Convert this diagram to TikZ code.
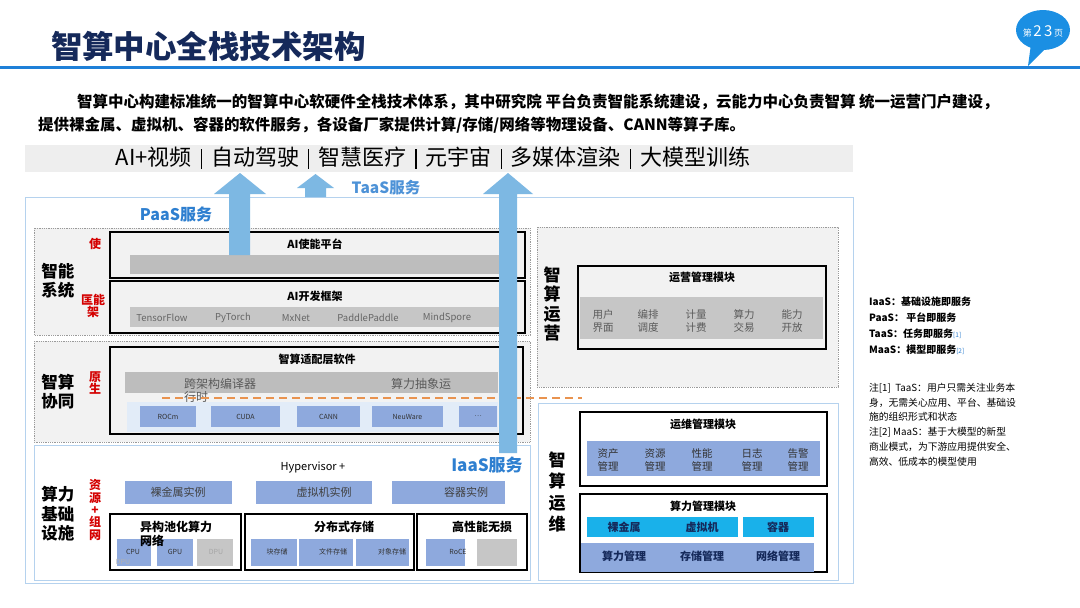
\documentclass[tikz,border=0pt]{standalone}
\usepackage{fontspec}
\setmainfont{Noto Sans CJK SC}
\definecolor{navy}{HTML}{15295A}
\definecolor{lineblue}{HTML}{1E80D8}
\definecolor{badgeblue}{HTML}{1B8FE3}
\definecolor{bargray}{HTML}{EEEEEE}
\definecolor{arrowblue}{HTML}{7DB8E3}
\definecolor{servblue}{HTML}{2E7FD0}
\definecolor{outerblue}{HTML}{B5D2EE}
\definecolor{secgray}{HTML}{F2F2F2}
\definecolor{dotgray}{HTML}{9A9A9A}
\definecolor{grayA}{HTML}{BDBDBD}
\definecolor{grayB}{HTML}{C6C6C6}
\definecolor{boxblue}{HTML}{8EA9DD}
\definecolor{ltblue}{HTML}{E2ECF8}
\definecolor{cyanbox}{HTML}{19B1EA}
\definecolor{redlab}{HTML}{D40000}
\definecolor{orangedash}{HTML}{E9934F}
\definecolor{txtgray}{HTML}{5A5A5A}
\newcommand\fsz[2]{\fontsize{#1}{#2}\selectfont}
\newcommand\tsep{\hspace{9pt}\rule[-3pt]{1.3pt}{20pt}\hspace{9pt}}
\tikzset{
  sect/.style={draw=dotgray, densely dotted, fill=secgray, line width=0.8pt},
  blk/.style={draw=black, line width=1.3pt},
  bsect/.style={draw=outerblue, line width=1pt, fill=white},
  bbox/.style={fill=boxblue},
  sidelab/.style={font=\fsz{16.5}{19}\bfseries, align=center},
  redl/.style={text=redlab, font=\fsz{12}{12.5}\bfseries, align=center},
  boxtitle/.style={font=\fsz{11}{13}\bfseries},
  small/.style={font=\fsz{7}{8}, text=black!80},
  item/.style={font=\fsz{10.5}{12.5}, align=center, text=txtgray},
  serv/.style={text=servblue, font=\fsz{16}{18}\bfseries},
  bigarrow/.style={fill=arrowblue}
}
\begin{document}
\begin{tikzpicture}[x=1pt,y=-1pt, every node/.style={inner sep=0pt, outer sep=0pt}]
\useasboundingbox[fill=white] (0,0) rectangle (1080,608);

% title
\node[anchor=west, text=navy, font=\fsz{31.5}{34}\bfseries] (title) at (51,46) {智算中心全栈技术架构};
\draw[lineblue, line width=3pt] (0,67.5) -- (1080,67.5);
% badge
\fill[badgeblue] (1043,30) ellipse (27 and 20);
\fill[badgeblue] (1031,44) -- (1028,66) -- (1046,48) -- cycle;
\node[text=white] (badge) at (1043,31) {{\fsz{9}{10}第}\,{\fsz{15}{16}2\,3}\,{\fsz{9}{10}页}};

% paragraph
\node[anchor=west, font=\fsz{15.5}{18}\bfseries] (para1) at (77,102) {智算中心构建标准统一的智算中心软硬件全栈技术体系，其中研究院 平台负责智能系统建设，云能力中心负责智算 统一运营门户建设，};
\node[anchor=west, font=\fsz{15.5}{18}\bfseries] (para2) at (38,125) {提供裸金属、虚拟机、容器的软件服务，各设备厂家提供计算/存储/网络等物理设备、CANN等算子库。};

% application bar
\fill[bargray] (25,145) rectangle (853,172);
\node[font=\fsz{22}{24}] (apps) at (433,158) {AI+视频\tsep 自动驾驶\tsep 智慧医疗\tsep 元宇宙\tsep 多媒体渲染\tsep 大模型训练};

% outer frame
\draw[outerblue, line width=1pt] (25,197) rectangle (853,583);

% ===== left: 智能系统
\draw[sect] (34,228) rectangle (530,335);
\node[sidelab] (s1) at (58,281) {智能\\系统};
\node[redl] (r1a) at (95,244) {使};
\node[redl] (r1b) at (93,306) {匡能\\架};
\draw[blk] (110,232) rectangle (525,278);
\fill[grayA] (130,255) rectangle (505,274);
\node[boxtitle] (aien) at (315,244) {AI使能平台};
\draw[blk] (110,281) rectangle (525,333);
\fill[grayB] (130,307) rectangle (512,327);
\node[boxtitle] (aidev) at (315,296) {AI开发框架};
\foreach \t/\x [count=\i] in {TensorFlow/162,PyTorch/233,MxNet/296,PaddlePaddle/368,MindSpore/447}
  \node[font=\fsz{9.5}{11}, text=black!60] (fw\i) at (\x,318) {\t};

% ===== left: 智算协同
\draw[sect] (34,341) rectangle (530,442);
\node[sidelab] (s2) at (58,392) {智算\\协同};
\node[redl] (r2) at (95,383) {原\\生};
\draw[blk] (110,347) rectangle (523,434);
\node[boxtitle] (adapt) at (317,359) {智算适配层软件};
\fill[grayA] (125,372) rectangle (498,393);
\node[font=\fsz{12}{14}, text=txtgray] (comp) at (220,384) {跨架构编译器};
\node[font=\fsz{12}{14}, text=txtgray] (rt) at (196,397) {行时};
\node[font=\fsz{12}{14}, text=txtgray] (abs) at (421,384) {算力抽象运};
\fill[ltblue] (127,402) rectangle (498,432);
\foreach \a/\b/\t [count=\i] in {140/196/ROCm,211/280/CUDA,297/360/CANN,372/443/NeuWare}{
  \fill[boxblue] (\a,406) rectangle (\b,427);
  \node[small] (chip\i) at ({(\a+\b)/2},416.5) {\t};
}
\fill[boxblue] (459,406) rectangle (497,427);
\node[small] (chip5) at (478,416.5) {\ldots};
\draw[orangedash, line width=1.6pt, dash pattern=on 8pt off 5pt] (162,398) -- (582,398);

% ===== left: 算力基础设施
\draw[bsect] (34,445) rectangle (530,580);
\node[sidelab, font=\fsz{16.5}{19.5}\bfseries] (s3) at (58,514) {算力\\基础\\设施};
\node[redl, font=\fsz{12}{12.3}\bfseries] (r3) at (95,510) {资\\源\\+\\组\\网};
\node[font=\fsz{11}{13}] (hyp) at (313,468) {Hypervisor +};
\fill[bbox] (125,481) rectangle (232,504);
\fill[bbox] (256,481) rectangle (372,504);
\fill[bbox] (392,481) rectangle (505,504);
\node[font=\fsz{11}{13}, text=black!75] (bm) at (178,492.5) {裸金属实例};
\node[font=\fsz{11}{13}, text=black!75] (vm) at (324,492.5) {虚拟机实例};
\node[font=\fsz{11}{13}, text=black!75] (ct) at (466,492.5) {容器实例};
\draw[blk] (110,514) rectangle (241,570);
\draw[blk] (245,514) rectangle (414,570);
\draw[blk] (417,514) rectangle (527,570);
\fill[bbox] (117,539) rectangle (151,566);
\fill[bbox] (157,539) rectangle (193,566);
\fill[grayB] (197,539) rectangle (233,566);
\node[small] (cpu) at (133,552) {CPU};
\node[small] (gpu) at (175,552) {GPU};
\node[small, text=black!35] (dpu) at (216,552) {DPU};
\node[small, text=black!30] (dpu2) at (123,562) {DPU};
\fill[bbox] (251,539) rectangle (297,566);
\fill[bbox] (299,539) rectangle (353,566);
\fill[bbox] (356,539) rectangle (409,566);
\node[small] (blk1) at (277,552) {块存储};
\node[small] (file) at (333,552) {文件存储};
\node[small] (obj) at (392,552) {对象存储};
\fill[bbox] (426,539) rectangle (465,566);
\fill[grayB] (477,539) rectangle (517,566);
\node[small] (roce) at (458,552) {RoCE};
\node[anchor=west, font=\fsz{12}{14}\bfseries] (pool) at (140,527) {异构池化算力};
\node[anchor=west, font=\fsz{12}{14}\bfseries] (pool2) at (140,541) {网络};
\node[font=\fsz{12}{14}\bfseries] (dist) at (344,527) {分布式存储};
\node[font=\fsz{12}{14}\bfseries] (hpn) at (482,527) {高性能无损};

% ===== arrows
\fill[bigarrow] (229,255) -- (229,194) -- (214,194) -- (240,173) -- (266,194) -- (250,194) -- (250,255) -- cycle;
\fill[bigarrow] (305,197) -- (305,188) -- (297,188) -- (315.5,174) -- (334,188) -- (326,188) -- (326,197) -- cycle;
\fill[bigarrow] (499,453) -- (499,194) -- (483,194) -- (508,173) -- (533,194) -- (517,194) -- (517,453) -- cycle;
\node[serv, font=\fsz{15.5}{17}\bfseries, text=servblue!85] (taas) at (386,188) {TaaS服务};
\node[serv] (paas) at (176,214) {PaaS服务};
\node[serv, font=\fsz{17}{19}\bfseries] (iaas) at (487,465) {IaaS服务};

% ===== right: 智算运营
\draw[sect] (537,227) rectangle (838,387);
\node[sidelab, font=\fsz{17}{19.5}\bfseries] (o1) at (552,304) {智\\算\\运\\营};
\draw[blk] (578,266) rectangle (826,349);
\node[boxtitle] (opm) at (702,277) {运营管理模块};
\fill[grayB] (580,297) rectangle (823,339);
\foreach \t/\x [count=\i] in {用户\\界面/603,编排\\调度/648,计量\\计费/696,算力\\交易/744,能力\\开放/792}
  \node[item] (op\i) at (\x,321) {\t};

% ===== right: 智算运维
\draw[bsect] (538,403) rectangle (838,580);
\node[sidelab, font=\fsz{17}{21.3}\bfseries] (o2) at (557,492) {智\\算\\运\\维};
\draw[blk] (580,412) rectangle (827,486);
\node[boxtitle] (omm) at (703,424) {运维管理模块};
\fill[bbox] (587,441) rectangle (820,476);
\foreach \t/\x [count=\i] in {资产\\管理/608,资源\\管理/655,性能\\管理/702,日志\\管理/752,告警\\管理/798}
  \node[item, text=black!80] (om\i) at (\x,460) {\t};
\draw[blk] (580,494) rectangle (827,572);
\node[boxtitle] (cpm) at (703,506) {算力管理模块};
\fill[cyanbox] (587,517) rectangle (738,537);
\fill[cyanbox] (743,517) rectangle (814,537);
\fill[bbox] (581,543) rectangle (814,572);
\node[font=\fsz{11}{13}\bfseries, text=navy] (c1) at (624,527) {裸金属};
\node[font=\fsz{11}{13}\bfseries, text=navy] (c2) at (702,527) {虚拟机};
\node[font=\fsz{11}{13}\bfseries, text=navy] (c3) at (778,527) {容器};
\node[font=\fsz{11}{13}\bfseries, text=navy] (m1) at (624,556) {算力管理};
\node[font=\fsz{11}{13}\bfseries, text=navy] (m2) at (702,556) {存储管理};
\node[font=\fsz{11}{13}\bfseries, text=navy] (m3) at (778,556) {网络管理};

% ===== notes
\node[anchor=north west, align=left, font=\fsz{10}{16}\bfseries] (defs) at (869,297) {IaaS：基础设施即服务\\PaaS：\ 平台即服务\\TaaS：任务即服务{\color{servblue}\fsz{6.5}{8}\mdseries[1]}\\MaaS：模型即服务{\color{servblue}\fsz{6.5}{8}\mdseries[2]}};
\node[anchor=north west, align=left, font=\fsz{9.8}{14.8}] (notes) at (869,383) {注[1]\ \ TaaS：用户只需关注业务本\\身，无需关心应用、平台、基础设\\施的组织形式和状态\\注[2] MaaS：基于大模型的新型\\商业模式，为下游应用提供安全、\\高效、低成本的模型使用};
\end{tikzpicture}
\end{document}
